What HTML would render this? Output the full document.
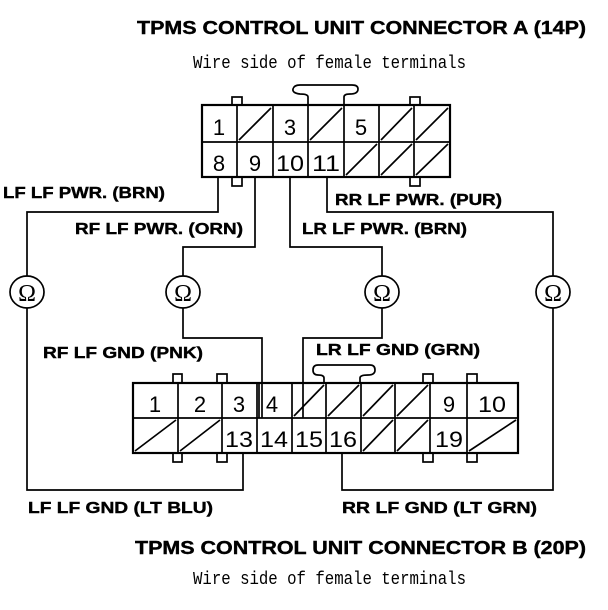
<!DOCTYPE html>
<html><head><meta charset="utf-8"><style>
html,body{margin:0;padding:0;background:#fff}
svg{display:block}
.b{font-family:"Liberation Sans",sans-serif;font-weight:bold;font-size:16px}
.n{font-family:"Liberation Sans",sans-serif;font-size:22px}
.m{font-family:"Liberation Mono",monospace;font-size:18px}
.o{font-family:"Liberation Serif",serif;font-size:24px}
</style></head><body>
<svg width="608" height="610" viewBox="0 0 608 610" xmlns="http://www.w3.org/2000/svg">
<g fill="none" stroke="#000" stroke-width="1.7">
<rect x="202" y="105" width="248" height="72" stroke-width="2.2"/>
<line x1="202" y1="142" x2="450" y2="142"/>
<line x1="237" y1="105" x2="237" y2="177"/><line x1="273" y1="105" x2="273" y2="177"/>
<line x1="308" y1="105" x2="308" y2="177"/><line x1="344" y1="105" x2="344" y2="177"/>
<line x1="379" y1="105" x2="379" y2="177"/><line x1="414" y1="105" x2="414" y2="177"/>
<line x1="239" y1="140" x2="271" y2="108"/><line x1="310" y1="140" x2="342" y2="108"/>
<line x1="381" y1="140" x2="412" y2="108"/><line x1="416" y1="140" x2="448" y2="108"/>
<line x1="346" y1="175" x2="377" y2="144"/><line x1="381" y1="175" x2="412" y2="144"/>
<line x1="416" y1="175" x2="448" y2="144"/>
<rect x="232" y="97" width="10" height="8"/><rect x="410" y="97" width="10" height="8"/>
<rect x="232" y="177" width="10" height="9"/><rect x="410" y="177" width="10" height="9"/>
<path d="M308,105 V97 Q308,94 300,94 Q292,93 293,89 Q294,85 300,85 H352 Q358,85 358,89 Q358,94 350,94 Q344,94 344,97 V105"/>
<rect x="133" y="383" width="385" height="70" stroke-width="2.2"/>
<line x1="133" y1="418" x2="518" y2="418"/>
<line x1="178" y1="383" x2="178" y2="453"/><line x1="222" y1="383" x2="222" y2="453"/>
<line x1="257" y1="383" x2="257" y2="453"/><line x1="259" y1="383" x2="259" y2="418"/>
<line x1="292" y1="383" x2="292" y2="453"/><line x1="326" y1="383" x2="326" y2="453"/>
<line x1="361" y1="383" x2="361" y2="453"/><line x1="395" y1="383" x2="395" y2="453"/>
<line x1="430" y1="383" x2="430" y2="453"/><line x1="467" y1="383" x2="467" y2="453"/>
<line x1="294" y1="416" x2="324" y2="385"/><line x1="328" y1="416" x2="359" y2="385"/>
<line x1="363" y1="416" x2="393" y2="385"/><line x1="397" y1="416" x2="428" y2="385"/>
<line x1="135" y1="451" x2="176" y2="420"/><line x1="180" y1="451" x2="220" y2="420"/>
<line x1="363" y1="451" x2="393" y2="420"/><line x1="397" y1="451" x2="428" y2="420"/>
<line x1="469" y1="451" x2="516" y2="420"/>
<rect x="173" y="374" width="9" height="9"/><rect x="217" y="374" width="10" height="9"/>
<rect x="423" y="374" width="10" height="9"/><rect x="467" y="374" width="10" height="9"/>
<rect x="173" y="453" width="9" height="9"/><rect x="217" y="453" width="10" height="9"/>
<rect x="423" y="453" width="10" height="9"/><rect x="467" y="453" width="10" height="9"/>
<path d="M324,383 V378 Q324,375 318,375 Q313,375 313,370 Q313,365 318,365 H370 Q375,365 375,370 Q375,375 368,375 Q360,375 360,378 V383"/>
<polyline points="218,177 218,212 27,212 27,276"/>
<polyline points="27,308 27,490 243,490 243,453"/>
<polyline points="255,177 255,247 183,247 183,276"/>
<polyline points="183,308 183,338 262,338 262,418"/>
<polyline points="290,177 290,247 382,247 382,276"/>
<polyline points="382,308 382,338 303,338 303,418"/>
<polyline points="327,177 327,212 553,212 553,276"/>
<polyline points="553,308 553,490 342,490 342,453"/>
<ellipse cx="27" cy="292" rx="17" ry="16"/>
<ellipse cx="183" cy="292" rx="17" ry="16"/>
<ellipse cx="382" cy="292" rx="17" ry="16"/>
<ellipse cx="553" cy="292" rx="17" ry="16"/>
</g>
<g class="o" text-anchor="middle">
<text x="27" y="301">Ω</text><text x="183" y="301">Ω</text><text x="382" y="301">Ω</text><text x="553" y="301">Ω</text>
</g>
<g class="n" text-anchor="middle">
<text x="219" y="135">1</text><text x="290" y="135">3</text><text x="361" y="135">5</text>
<text x="219" y="171">8</text><text x="255" y="171">9</text><text x="290" y="171" textLength="28" lengthAdjust="spacingAndGlyphs">10</text><text x="326" y="171" textLength="28" lengthAdjust="spacingAndGlyphs">11</text>
<text x="155" y="412">1</text><text x="200" y="412">2</text><text x="239" y="412">3</text><text x="272" y="412">4</text>
<text x="449" y="412">9</text><text x="492" y="412" textLength="28" lengthAdjust="spacingAndGlyphs">10</text>
<text x="239" y="447" textLength="28" lengthAdjust="spacingAndGlyphs">13</text><text x="274" y="447" textLength="28" lengthAdjust="spacingAndGlyphs">14</text><text x="309" y="447" textLength="28" lengthAdjust="spacingAndGlyphs">15</text><text x="343" y="447" textLength="28" lengthAdjust="spacingAndGlyphs">16</text><text x="449" y="447" textLength="28" lengthAdjust="spacingAndGlyphs">19</text>
</g>
<g class="b" stroke="#000" stroke-width="0.4">
<text x="137" y="34" textLength="449" lengthAdjust="spacingAndGlyphs" style="font-size:18px">TPMS CONTROL UNIT CONNECTOR A (14P)</text>
<text x="135" y="554" textLength="451" lengthAdjust="spacingAndGlyphs" style="font-size:18px">TPMS CONTROL UNIT CONNECTOR B (20P)</text>
<text x="3" y="198" textLength="162" lengthAdjust="spacingAndGlyphs">LF LF PWR. (BRN)</text>
<text x="75" y="234" textLength="168" lengthAdjust="spacingAndGlyphs">RF LF PWR. (ORN)</text>
<text x="43" y="358" textLength="160" lengthAdjust="spacingAndGlyphs">RF LF GND (PNK)</text>
<text x="335" y="205" textLength="167" lengthAdjust="spacingAndGlyphs">RR LF PWR. (PUR)</text>
<text x="302" y="234" textLength="165" lengthAdjust="spacingAndGlyphs">LR LF PWR. (BRN)</text>
<text x="316" y="355" textLength="164" lengthAdjust="spacingAndGlyphs">LR LF GND (GRN)</text>
<text x="28" y="513" textLength="185" lengthAdjust="spacingAndGlyphs">LF LF GND (LT BLU)</text>
<text x="342" y="513" textLength="195" lengthAdjust="spacingAndGlyphs">RR LF GND (LT GRN)</text>
</g>
<g class="m">
<text x="193" y="68" textLength="273" lengthAdjust="spacingAndGlyphs">Wire side of female terminals</text>
<text x="193" y="584" textLength="273" lengthAdjust="spacingAndGlyphs">Wire side of female terminals</text>
</g>
</svg>
</body></html>
